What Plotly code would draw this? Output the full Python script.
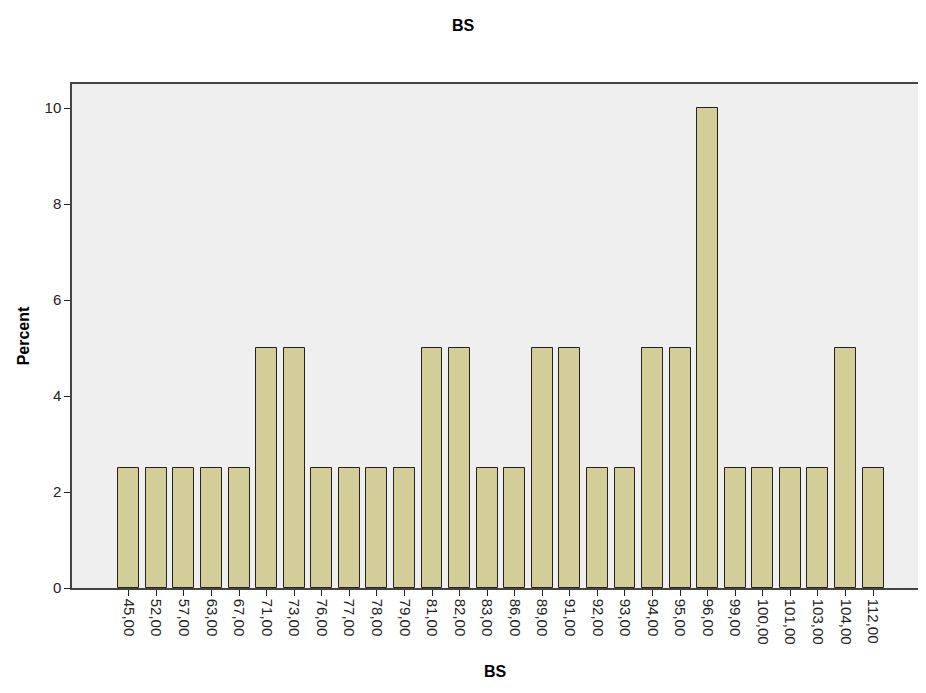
import plotly.graph_objects as go

categories = ["45,00", "52,00", "57,00", "63,00", "67,00", "71,00", "73,00", "76,00",
              "77,00", "78,00", "79,00", "81,00", "82,00", "83,00", "86,00", "89,00",
              "91,00", "92,00", "93,00", "94,00", "95,00", "96,00", "99,00", "100,00",
              "101,00", "103,00", "104,00", "112,00"]
percent = [2.5, 2.5, 2.5, 2.5, 2.5, 5, 5, 2.5,
           2.5, 2.5, 2.5, 5, 5, 2.5, 2.5, 5,
           5, 2.5, 2.5, 5, 5, 10, 2.5, 2.5,
           2.5, 2.5, 5, 2.5]
y_ticks = [0, 2, 4, 6, 8, 10]

fig = go.Figure(go.Bar(
    x=list(range(len(categories))), y=percent, width=0.76,
    marker=dict(color="#D3CE97", line=dict(color="#222222", width=1)),
))

fig.update_layout(
    width=910, height=677,
    margin=dict(l=64, r=0, t=76, b=97),
    paper_bgcolor="white", plot_bgcolor="#EFEFEF",
    font=dict(family="Liberation Sans, Arial, sans-serif", size=12, color="#222222"),
    title=dict(text="<b>BS</b>", x=0.5, xref="container", y=0.975, yref="container",
               yanchor="middle", font=dict(size=16, color="black")),
    showlegend=False, bargap=0,
)
fig.update_xaxes(
    range=[-2.06, 28.63], tickmode="array", tickvals=list(range(len(categories))),
    ticktext=categories, tickangle=90, ticks="outside", ticklen=6, tickcolor="#222222",
    showline=True, linecolor="#444444", linewidth=1.5, mirror=True, showgrid=False,
    zeroline=False,
    title=dict(text="<b>BS</b>", font=dict(size=16, color="black"), standoff=22),
    tickfont=dict(size=15),
)
fig.update_yaxes(
    range=[0, 10.5], tickmode="array", tickvals=y_ticks, ticks="outside", ticklen=6,
    tickcolor="#222222", showline=True, linecolor="#444444", linewidth=1.5,
    showgrid=False, zeroline=False,
    title=dict(text="<b>Percent</b>", font=dict(size=16, color="black"), standoff=11),
    tickfont=dict(size=15),
)

fig.write_html("out.html")
